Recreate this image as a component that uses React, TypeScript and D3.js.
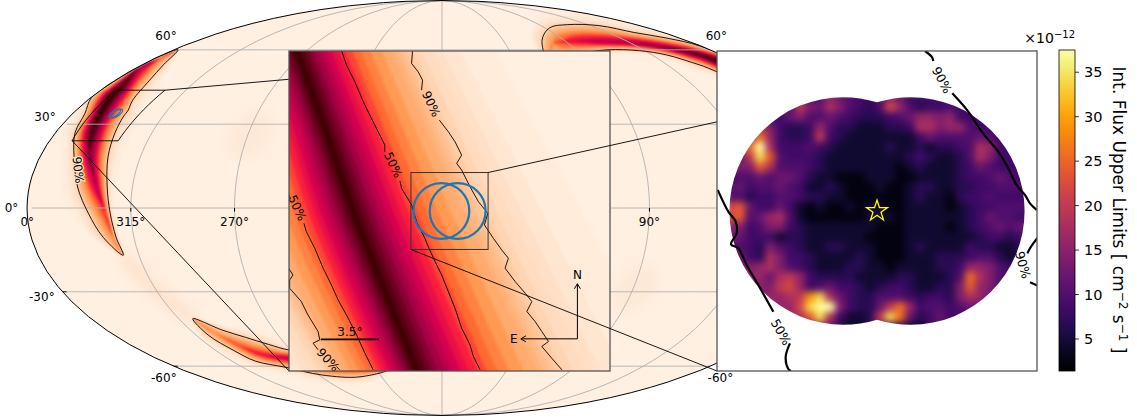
import { useEffect, useRef } from 'react';
import * as d3 from 'd3';

const width = 1137;
const height = 419;

type Pair = [number, number];

// graticule
const lonTicks = [315, 270, 225, 180, 135, 90, 45];
const latTicks = [-60, -30, 0, 30, 60];

// crescent of the probability ring on the sky: ridge and the two 90% edges, [lon, lat] in degrees
const ridgeA: Pair[] = [[357, 60], [357, 56.4], [358.5, 52.6], [353, 46.3], [351, 41.6], [347, 34.6], [343, 26.8], [337.5, 18.1], [330.4, 7.4], [326, -1.8], [324, -10.3], [322, -16.7]];
const innerA: Pair[] = [[357, 60], [347, 53.4], [341, 47], [337, 39], [334.4, 35.3], [333.9, 32.6], [332.2, 26.8], [329.5, 18.1], [326, 7.4], [324, -1.8], [322.8, -10.3], [322, -16.7]];
const outerA: Pair[] = [[357, 60], [359.8, 57], [359.8, 52], [359.8, 44.5], [359.5, 39.9], [354, 34], [350.8, 26.8], [344.7, 18.1], [338.9, 7.4], [333.5, -1.8], [328.5, -10.3], [322, -16.7]];
const peakA = [0.12, 0.4, 0.7, 0.9, 0.95, 0.95, 0.9, 0.78, 0.65, 0.5, 0.36, 0.12];

const ridgeB: Pair[] = [[307.8, -40.2], [303.4, -45.9], [297.3, -51.3], [290, -55], [277.3, -56.4], [257.7, -59.6], [235.8, -60.9], [215.4, -60.9]];
const upperB: Pair[] = [[307.8, -40.2], [297.9, -44.7], [289.1, -47.6], [280, -50.5], [270.4, -53], [247.5, -53.8], [228.3, -56.4], [215.4, -60.9]];
const lowerB: Pair[] = [[307.8, -40.2], [308.3, -46.7], [304.3, -53], [300, -57.7], [285.9, -60.5], [267.8, -64.1], [241.2, -65], [215.4, -60.9]];
const peakB = [0.12, 0.35, 0.46, 0.56, 0.66, 0.68, 0.58, 0.12];

const ridgeC: Pair[] = [[116.5, 52.2], [101.5, 62.7], [94.7, 63.6], [82.7, 64.1], [65.8, 63.6], [43.3, 63.1], [26.8, 60.9], [14.5, 57.7], [7.7, 53.4]];
const upperC: Pair[] = [[116.5, 52.2], [106, 64.6], [85.9, 70.7], [64, 72.4], [37.2, 71.9], [23.7, 68.3], [10, 65.5], [1, 61.8], [1.8, 55.4]];
const lowerC: Pair[] = [[116.5, 52.2], [112, 55.4], [102.8, 56.4], [90.7, 58.2], [69, 60], [48.5, 59.6], [35.6, 57.7], [25.7, 53.4], [16.3, 49.4]];
const peakC = [0.12, 0.34, 0.46, 0.58, 0.68, 0.72, 0.78, 0.88, 0.92];

// faint parts of the map
const faintArc: Pair[] = [[322, -16.7], [316, -28], [307.8, -40.2]];
const faintSpots: Pair[] = [[269, 26], [89, -29]];

// cross-section of the ring: colour level against distance, 1 = the 90% edge
const edgeLevel = 0.15;
const profileLevels = [0.02, 0.05, 0.1, 0.15, 0.2, 0.3, 0.4, 0.5, 0.6, 0.7, 0.8, 0.9, 1];
const profileOffsets = [1.7, 1.4, 1.18, 1, 0.92, 0.76, 0.58, 0.45, 0.34, 0.24, 0.15, 0.07, 0];
const bandLevels = [0.02, 0.05, 0.08, 0.1, 0.125, 0.15, 0.175, 0.2, 0.225, 0.25, 0.3, 0.35, 0.4, 0.45, 0.5, 0.55, 0.6, 0.65, 0.7, 0.75, 0.8, 0.85, 0.9];

const cylonLevels = [0, 0.1, 0.2, 0.3, 0.4, 0.5, 0.6, 0.7, 0.8, 0.9, 1];
const cylonColors = ['#fff0e2', '#ffdcc0', '#ffbb88', '#ff9a55', '#ff6a30', '#fa1e3c', '#d60050', '#a60044', '#6e0022', '#3c0000', '#180000'];

// zoomed view, degrees east / north of the pointing centre
const insetRidge: Pair[] = [[10.21, 12], [9.21, 9.7], [7.5, 4.98], [5.79, -0.04], [3.89, -4.86], [1.98, -9.58], [0.87, -11.89]];
const insetLeft: Pair[] = [[16.13, 12], [15.13, 9.7], [13.72, 4.98], [12.32, -0.04], [10.11, -4.86], [7.5, -9.58], [6.3, -11.89]];
const insetRight: Pair[] = [[3.18, 12], [2.22, 9.7], [0.07, 4.98], [-2.24, -0.04], [-4.51, -4.86], [-6.76, -9.58], [-7.86, -11.89]];
const insetPeak = [0.93, 0.93, 0.93, 0.93, 0.93, 0.93, 0.93];

const inset90a: Pair[] = [[2.22, 9.7], [2.28, 8.9], [1.88, 8.39], [1.62, 7.89], [1.68, 7.29]];
const inset90b: Pair[] = [[0.61, 5.48], [0.07, 4.78], [-0.33, 4.18], [-0.73, 3.37], [-0.43, 2.87], [-0.73, 2.47], [-1.23, 1.47], [-1.74, 0.56], [-2.3, -0.14], [-2.1, -0.84], [-2.64, -1.65], [-3.14, -2.35], [-3.54, -2.85], [-3.34, -3.45], [-3.95, -4.26], [-4.55, -4.96], [-4.95, -5.46], [-4.65, -6.06], [-5.15, -6.67], [-5.55, -7.27], [-5.95, -7.87], [-5.55, -8.17], [-6.15, -8.88], [-6.76, -9.58]];
const inset50a: Pair[] = [[6.5, 9.7], [6.19, 8.8], [5.69, 7.79], [5.09, 6.39], [4.49, 5.18], [3.89, 3.98], [3.89, 3.57]];
const inset50b: Pair[] = [[2.98, 1.81], [2.88, 1.37], [2.28, 0.36], [1.98, -0.64], [1.48, -1.65], [1.28, -2.15], [0.87, -3.05], [0.47, -3.86], [0.07, -4.86], [-0.33, -5.86], [-0.73, -7.07], [-1.23, -8.07], [-1.44, -8.78], [-1.84, -9.58]];
const inset50c: Pair[] = [[9.67, 1], [9.55, 0.72]];
const inset50d: Pair[] = [[8.75, -0.74], [8.61, -1.24], [8.1, -2.25], [7.6, -3.45], [7.1, -4.46], [6.7, -5.36], [6.09, -6.47], [5.59, -7.47], [5.09, -8.57], [4.59, -9.58]];
const inset90c: Pair[] = [[9.67, -3.45], [9.41, -3.86], [9.61, -4.16], [9.61, -4.66], [8.91, -5.46], [8.51, -6.27], [7.9, -7.27], [7.8, -7.77], [8.2, -7.97], [7.9, -8.37]];
const inset90d: Pair[] = [[6.8, -9.38], [6.6, -9.58]];

// sky box of the zoomed view and the two pointings
const skyBox: Pair[] = [[351.9, 43], [326, 43], [328.5, 23.9], [349.6, 23.9]];
const pointingsSky: Pair[] = [[339.5, 34], [338.5, 34]];
const pointingDx = [0.49, -0.49];
const pointingRadius = 1.65;
const insetHalf = 9.65;
const boxHalf = 2.32;

// right panel, same degrees as the inset
const panel90a: Pair[] = [[-0.696, 2.32], [-0.793, 2.238], [-0.817, 2.175]];
const panel90b: Pair[] = [[-1.092, 1.706], [-1.324, 1.44], [-1.518, 1.15], [-1.759, 0.86], [-1.904, 0.619], [-2.025, 0.377], [-2.146, 0.232], [-2.218, 0.111], [-2.315, 0.015]];
const panel90c: Pair[] = [[-2.329, -0.387], [-2.218, -0.541], [-2.18, -0.614]];
const panel90d: Pair[] = [[-2.218, -1.034], [-2.329, -1.083]];
const panel50a: Pair[] = [[2.31, 0.305], [2.156, -0.01], [2.049, -0.155], [2.035, -0.324], [2.117, -0.483], [2.011, -0.541], [1.89, -0.783], [1.721, -1.073], [1.503, -1.46]];
const panel50b: Pair[] = [[1.262, -1.919], [1.324, -2.112], [1.286, -2.291], [1.247, -2.32]];

// flux map read in 10 px cells, one character per cell, see fluxLevels
const fluxLevels = [2.5, 4.5, 6.5, 8.5, 10, 12, 14, 16, 18, 20, 22, 24, 26, 29, 34, 44];
const fluxRows = [
  '4444444444754334753333333333333',
  '444444496586432' + '4' + 'a74233433333333',
  '333333564454322' + '2' + '345776733333333',
  '999963223742211' + '1' + '223886774333333',
  '777c73223932111' + '1' + '111354444543333',
  'aacf83334321111' + '1' + '211212234873333',
  '559eb4333211111' + '1' + '112321124863333',
  '666b84443211111' + '1' + '101211123543333',
  '344545542110001' + '1' + '100111123345433',
  '453445431121000' + '1' + '001221122334443',
  '442334432211000' + '0' + '001211023343333',
  'ab5335310100101' + '1' + '001111012334444',
  'ab4578410000001' + '1' + '101111112354433',
  '663466321111111' + '0' + '001111012345455',
  '553331221111110' + '0' + '001111111233233',
  '443264321122111' + '0' + '001211113221122',
  '553286332111121' + '0' + '001112223442122',
  '666786432111221' + '1' + '011112237764333',
  '777758973222211' + '1' + '12211124c864444',
  '666669a73453321' + '2' + '33211226b764444',
  '77777789de85322' + '4' + '443233268754444',
  '7777777aeff6322' + '5' + '9c7344345544444',
  '88888888be83112' + '9' + 'ec5235333333333',
  '666666666662112' + '5' + '321133333333333',
];

const colorbarTicks = [5, 10, 15, 20, 25, 30, 35];
const fluxDomain: Pair = [1.4, 37.5];

function mollweideRaw(lambda: number, phi: number): Pair {
  const cp = Math.PI * Math.sin(phi);
  let theta = phi;
  if (Math.abs(Math.abs(phi) - Math.PI / 2) < 1e-9) {
    theta = Math.sign(phi) * Math.PI;
  } else {
    for (let i = 0; i < 30; i++) {
      const delta = (theta + Math.sin(theta) - cp) / (1 + Math.cos(theta));
      theta -= delta;
      if (Math.abs(delta) < 1e-8) break;
    }
  }
  theta /= 2;
  return [(2 * Math.SQRT2 / Math.PI) * lambda * Math.cos(theta), Math.SQRT2 * Math.sin(theta)];
}

export default function App() {
  const svgRef = useRef<SVGSVGElement>(null);

  useEffect(() => {
    if (!svgRef.current) return;
    const svg = d3.select(svgRef.current);
    svg.selectAll('*').remove();

    const font = '"DejaVu Sans", sans-serif';
    const projection = d3.geoProjection(mollweideRaw as any)
      .rotate([-180, 0])
      .reflectX(true)
      .scale(146.7)
      .translate([442, 208])
      .precision(0.3);
    const geoPath = d3.geoPath(projection);
    const sky = (p: Pair) => projection(p) as Pair;

    // inset and right panel scales
    const insetX = d3.scaleLinear().domain([insetHalf, -insetHalf]).range([289, 610]);
    const insetY = d3.scaleLinear().domain([-insetHalf, insetHalf]).range([371, 51]);
    const insetXY = (p: Pair): Pair => [insetX(p[0]), insetY(p[1])];
    const panelX = d3.scaleLinear().domain([boxHalf, -boxHalf]).range([717, 1037]);
    const panelY = d3.scaleLinear().domain([-boxHalf, boxHalf]).range([371, 51]);
    const panelXY = (p: Pair): Pair => [panelX(p[0]), panelY(p[1])];

    const cylon = d3.scaleLinear<string>().domain(cylonLevels).range(cylonColors).clamp(true);
    const profile = d3.scaleLinear().domain(profileLevels).range(profileOffsets).clamp(true);
    const closed = d3.line().curve(d3.curveCatmullRomClosed.alpha(0.5));
    const open = d3.line().curve(d3.curveLinear);
    const smooth = d3.line().curve(d3.curveCatmullRom.alpha(0.5));

    const defs = svg.append('defs');
    const blur = (id: string, std: number) => defs.append('filter').attr('id', id)
      .attr('filterUnits', 'userSpaceOnUse').attr('x', 0).attr('y', 0).attr('width', width).attr('height', height)
      .attr('color-interpolation-filters', 'sRGB')
      .append('feGaussianBlur').attr('stdDeviation', std);
    blur('blur1', 0.9);
    blur('blur2', 1.6);
    blur('blur4', 3.6);
    blur('blur6', 6);
    defs.append('clipPath').attr('id', 'sphereClip').append('path').attr('d', geoPath({ type: 'Sphere' } as any));
    defs.append('clipPath').attr('id', 'insetClip').append('rect')
      .attr('x', 289).attr('y', 51).attr('width', 321).attr('height', 320);
    defs.append('clipPath').attr('id', 'panelClip').append('rect')
      .attr('x', 717).attr('y', 51).attr('width', 320).attr('height', 320);
    const discs = defs.append('clipPath').attr('id', 'discClip');
    pointingDx.forEach(dx => {
      discs.append('circle').attr('cx', panelX(dx)).attr('cy', panelY(0))
        .attr('r', panelX(0) - panelX(pointingRadius));
    });

    // one closed ring around a ridge, at fraction f of the way to the edges
    const ring = (
      ridge: Pair[], a: Pair[], b: Pair[], toXY: (p: Pair) => Pair, frac: (i: number) => number
    ) => {
      const at = (edge: Pair[], i: number): Pair => {
        const r = toXY(ridge[i]);
        const e = toXY(edge[i]);
        const f = frac(i);
        return [r[0] + f * (e[0] - r[0]), r[1] + f * (e[1] - r[1])];
      };
      const n = ridge.length;
      const side1 = d3.range(n).map(i => at(a, i));
      const side2 = d3.range(n).map(i => at(b, i)).reverse();
      const same = (p: Pair, q: Pair) => Math.hypot(p[0] - q[0], p[1] - q[1]) < 0.01;
      if (same(side1[0], side2[n - 1])) side2.pop();
      if (same(side1[n - 1], side2[0])) side2.shift();
      return closed([...side1, ...side2] as any) as string;
    };

    // gamma < 1 pushes the strong colours out towards the contour (the map is coarser than the inset)
    const drawBand = (
      g: any, ridge: Pair[], a: Pair[], b: Pair[], peak: number[], toXY: (p: Pair) => Pair, gamma = 1
    ) => {
      const top = d3.max(peak) as number;
      bandLevels.filter(v => v < top).forEach(v => {
        const frac = (i: number) => {
          const p = peak[i];
          if (v >= p) return 0;
          const f = Math.min(2, profile(v / p) / Math.max(0.05, profile(edgeLevel / p)));
          return f < 1 ? Math.pow(f, gamma) : f;
        };
        g.append('path').attr('d', ring(ridge, a, b, toXY, frac)).attr('fill', cylon(v));
      });
    };

    // all sky map
    const map = svg.append('g').attr('clip-path', 'url(#sphereClip)');
    map.append('path').attr('d', geoPath({ type: 'Sphere' } as any)).attr('fill', cylonColors[0]);
    const faint = map.append('g').attr('filter', 'url(#blur6)');
    faint.append('path').attr('d', smooth(faintArc.map(sky)) as string)
      .attr('fill', 'none').attr('stroke', '#ffe2cc').attr('stroke-width', 14);
    faintSpots.forEach(c => {
      faint.append('path').attr('d', geoPath(d3.geoCircle().center(c).radius(9)() as any))
        .attr('fill', '#fee9d8');
    });

    const bands = map.append('g').attr('filter', 'url(#blur1)');
    drawBand(bands, ridgeA, innerA, outerA, peakA, sky, 0.7);
    drawBand(bands, ridgeB, upperB, lowerB, peakB, sky, 0.7);
    drawBand(bands, ridgeC, upperC, lowerC, peakC, sky, 0.7);

    // grid
    const grid = map.append('g').attr('fill', 'none').attr('stroke', '#b0b0b0').attr('stroke-width', 0.9);
    latTicks.forEach(lat => {
      grid.append('path').attr('d', open(d3.range(0.01, 360, 2).map(lon => sky([lon, lat])) as any) as string);
    });
    lonTicks.forEach(lon => {
      grid.append('path').attr('d', open(d3.range(-90, 90.5, 2).map(lat => sky([lon, lat])) as any) as string);
    });

    // 90% contours on the map
    const contours = map.append('g').attr('fill', 'none').attr('stroke', 'black').attr('stroke-width', 0.9);
    contours.append('path').attr('d', ring(ridgeA, innerA, outerA, sky, () => 1));
    contours.append('path').attr('d', ring(ridgeB, upperB, lowerB, sky, () => 1));
    contours.append('path').attr('d', ring(ridgeC, upperC, lowerC, sky, () => 1));

    svg.append('path').attr('d', geoPath({ type: 'Sphere' } as any))
      .attr('fill', 'none').attr('stroke', 'black').attr('stroke-width', 1);

    // map tick marks and labels
    const ticks = svg.append('g').attr('stroke', 'black').attr('stroke-width', 1);
    lonTicks.forEach(lon => {
      const [x, y] = sky([lon, 0]);
      ticks.append('line').attr('x1', x).attr('x2', x).attr('y1', y).attr('y2', y + 3.5);
    });
    [-30, -60].forEach(lat => {
      const [x, y] = sky([359.9, lat]);
      ticks.append('line').attr('x1', x).attr('x2', x + 4).attr('y1', y).attr('y2', y);
    });

    const label = (
      g: any, x: number, y: number, txt: string, anchor = 'middle', size = 12, rotate = 0
    ) => g.append('text')
      .attr('transform', `translate(${x},${y}) rotate(${rotate})`)
      .attr('text-anchor', anchor)
      .attr('dominant-baseline', 'central')
      .attr('font-family', font)
      .attr('font-size', size)
      .attr('fill', 'black')
      .text(txt);

    const mapText = svg.append('g');
    lonTicks.forEach(lon => {
      const [x, y] = sky([lon, 0]);
      label(mapText, x, y + 14, `${lon}°`);
    });
    label(mapText, sky([359.9, 0])[0], 222, '0°');
    label(mapText, sky([359.9, 0])[0] - 9, 208, '0°', 'end');
    label(mapText, sky([359.9, 30])[0] - 7, sky([0.1, 30])[1] - 7, '30°', 'end');
    label(mapText, sky([359.9, -30])[0] - 8, sky([0.1, -30])[1] + 5, '-30°', 'end');
    label(mapText, sky([359.9, 60])[0] + 3, sky([0.1, 60])[1] - 14, '60°', 'end');
    label(mapText, sky([359.9, -60])[0] + 3, sky([0.1, -60])[1] + 12, '-60°', 'end');
    label(mapText, sky([0.1, 60])[0] + 6, sky([0.1, 60])[1] - 14, '60°');
    label(mapText, sky([0.1, -60])[0] + 10, sky([0.1, -60])[1] + 12, '-60°');

    label(mapText, 78, 170, '90%', 'middle', 12, 83)
      .attr('stroke', '#ffe0c8').attr('stroke-width', 2.5).attr('paint-order', 'stroke');

    // sky box and pointings on the map
    const boxEdges = skyBox.flatMap((c, i) => {
      const d = skyBox[(i + 1) % skyBox.length];
      return d3.range(0, 1, 0.1).map(t => sky([c[0] + t * (d[0] - c[0]), c[1] + t * (d[1] - c[1])]));
    });
    svg.append('path').attr('d', `${open(boxEdges as any)}Z`)
      .attr('fill', 'none').attr('stroke', 'black').attr('stroke-width', 0.9);
    const linkLine = (a: Pair, b: Pair, g: any = svg) => g.append('line')
      .attr('x1', a[0]).attr('y1', a[1]).attr('x2', b[0]).attr('y2', b[1])
      .attr('stroke', 'black').attr('stroke-width', 0.9);
    linkLine(sky(skyBox[1]), insetXY([-insetHalf, insetHalf]));
    linkLine(sky(skyBox[3]), insetXY([insetHalf, -insetHalf]));
    pointingsSky.forEach(c => {
      svg.append('path').attr('d', geoPath(d3.geoCircle().center(c).radius(pointingRadius)() as any))
        .attr('fill', 'none').attr('stroke', '#1f77b4').attr('stroke-width', 1.2);
    });

    // inset
    const inset = svg.append('g');
    inset.append('rect').attr('x', 289).attr('y', 51).attr('width', 321).attr('height', 320)
      .attr('fill', cylonColors[0]);
    const insetBody = inset.append('g').attr('clip-path', 'url(#insetClip)');
    const insetBand = insetBody.append('g').attr('filter', 'url(#blur2)');
    drawBand(insetBand, insetRidge, insetLeft, insetRight, insetPeak, insetXY);

    const insetLines = insetBody.append('g').attr('fill', 'none').attr('stroke', 'black').attr('stroke-width', 0.9);
    [inset90a, inset90b, inset50a, inset50b, inset50c, inset50d, inset90c, inset90d].forEach(seg => {
      insetLines.append('path').attr('d', open(seg.map(insetXY) as any) as string);
    });
    label(insetBody, 431, 104, '90%', 'middle', 12, 65);
    label(insetBody, 393, 165, '50%', 'middle', 12, 65);
    label(insetBody, 297, 208, '50%', 'middle', 12, 65);
    label(insetBody, 328, 360, '90%', 'middle', 12, 48);

    inset.append('rect')
      .attr('x', insetX(boxHalf)).attr('y', insetY(boxHalf))
      .attr('width', insetX(-boxHalf) - insetX(boxHalf)).attr('height', insetY(-boxHalf) - insetY(boxHalf))
      .attr('fill', 'none').attr('stroke', '#333').attr('stroke-width', 1);
    pointingDx.forEach(dx => {
      inset.append('circle').attr('cx', insetX(dx)).attr('cy', insetY(0))
        .attr('r', insetX(0) - insetX(pointingRadius + 0.03))
        .attr('fill', 'none').attr('stroke', '#1f77b4').attr('stroke-width', 2.3);
    });

    // scale bar and compass
    const barY = insetY(-7.74);
    inset.append('line').attr('x1', insetX(7.74)).attr('x2', insetX(7.74 - 3.5)).attr('y1', barY).attr('y2', barY)
      .attr('stroke', 'black').attr('stroke-width', 1.6);
    label(inset, insetX(7.74 - 1.75), barY - 7.5, '3.5°');
    const cx = insetX(-7.69);
    const cy = insetY(-7.71);
    const ex = insetX(-7.69 + 3.4);
    const ny = insetY(-7.71 + 3.32);
    const arrows = inset.append('g').attr('fill', 'none').attr('stroke', 'black').attr('stroke-width', 1);
    arrows.append('path').attr('d', open([[cx, ny], [cx, cy], [ex, cy]] as any) as string);
    arrows.append('path').attr('d', open([[cx - 3, ny + 5], [cx, ny], [cx + 3, ny + 5]] as any) as string);
    arrows.append('path').attr('d', open([[ex + 5, cy - 3], [ex, cy], [ex + 5, cy + 3]] as any) as string);
    label(inset, cx, ny - 9, 'N');
    label(inset, ex - 7, cy, 'E');
    inset.append('rect').attr('x', 289).attr('y', 51).attr('width', 321).attr('height', 320)
      .attr('fill', 'none').attr('stroke', '#555').attr('stroke-width', 1.3);

    // links from the small box to the right panel
    linkLine([insetX(-boxHalf), insetY(boxHalf)], panelXY([-boxHalf, boxHalf]));
    linkLine([insetX(boxHalf), insetY(-boxHalf)], panelXY([boxHalf, -boxHalf]));

    // right panel
    const flux = d3.scaleSequential(d3.interpolateInferno).domain(fluxDomain).clamp(true);
    const panel = svg.append('g');
    panel.append('rect').attr('x', 717).attr('y', 51).attr('width', 320).attr('height', 320).attr('fill', 'white');
    const cellX = d3.scaleBand<number>().domain(d3.range(fluxRows[0].length)).range([725, 725 + 10 * fluxRows[0].length]);
    const cellY = d3.scaleBand<number>().domain(d3.range(fluxRows.length)).range([92, 92 + 10 * fluxRows.length]);
    const cells = panel.append('g').attr('clip-path', 'url(#discClip)').append('g').attr('filter', 'url(#blur4)');
    fluxRows.forEach((row, j) => {
      row.split('').forEach((ch, i) => {
        cells.append('rect')
          .attr('x', cellX(i) as number).attr('y', cellY(j) as number)
          .attr('width', cellX.bandwidth() + 0.5).attr('height', cellY.bandwidth() + 0.5)
          .attr('fill', flux(fluxLevels[parseInt(ch, 16)]));
      });
    });

    const panelBody = panel.append('g').attr('clip-path', 'url(#panelClip)');
    const panelLines = panelBody.append('g').attr('fill', 'none').attr('stroke', 'black').attr('stroke-width', 2.2);
    [panel90a, panel90b, panel90c, panel90d, panel50a, panel50b].forEach(seg => {
      panelLines.append('path').attr('d', smooth(seg.map(panelXY) as any) as string);
    });
    label(panelBody, 942, 80, '90%', 'middle', 12.5, 62);
    label(panelBody, 1023, 265, '90%', 'middle', 12.5, 75);
    label(panelBody, 781, 332, '50%', 'middle', 12.5, 60);

    panel.append('path')
      .attr('d', d3.symbol(d3.symbolStar, 136)() as string)
      .attr('transform', `translate(${panelX(0)},${panelY(0)})`)
      .attr('fill', 'none').attr('stroke', 'yellow').attr('stroke-width', 1.3);
    panel.append('rect').attr('x', 717).attr('y', 51).attr('width', 320).attr('height', 320)
      .attr('fill', 'none').attr('stroke', '#555').attr('stroke-width', 1.3);

    // colorbar
    const barScale = d3.scaleLinear().domain(fluxDomain).range([371, 50]);
    const gradient = defs.append('linearGradient').attr('id', 'infernoBar')
      .attr('x1', 0).attr('x2', 0).attr('y1', 1).attr('y2', 0);
    d3.range(0, 1.001, 0.05).forEach(t => {
      gradient.append('stop').attr('offset', t).attr('stop-color', d3.interpolateInferno(t));
    });
    const colorbar = svg.append('g');
    colorbar.append('rect').attr('x', 1059).attr('y', 50).attr('width', 16).attr('height', 321)
      .attr('fill', 'url(#infernoBar)').attr('stroke', 'black').attr('stroke-width', 0.8);
    colorbarTicks.forEach(t => {
      colorbar.append('line').attr('x1', 1075).attr('x2', 1079).attr('y1', barScale(t)).attr('y2', barScale(t))
        .attr('stroke', 'black').attr('stroke-width', 0.8);
      label(colorbar, 1084, barScale(t), `${t}`, 'start', 14.5);
    });

    const offsetText = colorbar.append('text').attr('x', 1075).attr('y', 43).attr('text-anchor', 'end')
      .attr('font-family', font).attr('font-size', 14).attr('fill', 'black');
    offsetText.append('tspan').text('×10');
    offsetText.append('tspan').attr('dy', -5).attr('font-size', 10).text('−12');

    const barLabel = colorbar.append('text')
      .attr('transform', 'translate(1113,210) rotate(90)')
      .attr('text-anchor', 'middle')
      .attr('font-family', font).attr('font-size', 17).attr('fill', 'black');
    barLabel.append('tspan').text('Int. Flux Upper Limits [ cm');
    barLabel.append('tspan').attr('dy', -6).attr('font-size', 12).text('−2');
    barLabel.append('tspan').attr('dy', 6).text(' s');
    barLabel.append('tspan').attr('dy', -6).attr('font-size', 12).text('−1');
    barLabel.append('tspan').attr('dy', 6).text(' ]');
  }, []);

  return (
    <svg
      ref={svgRef}
      width={width}
      height={height}
      viewBox={`0 0 ${width} ${height}`}
      style={{ position: 'absolute', left: 0, top: 0 }}
    />
  );
}
